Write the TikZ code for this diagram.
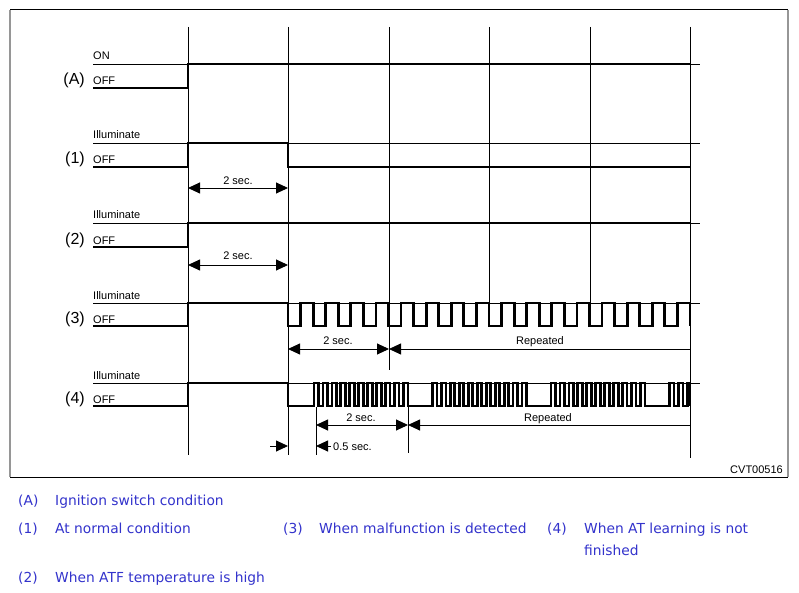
\documentclass[tikz,border=0pt]{standalone}
\usepackage{fontspec}
\setmainfont{Liberation Sans}
\newfontfamily\legfont{DejaVu Sans}
\usetikzlibrary{arrows.meta}
\definecolor{legblue}{RGB}{51,51,204}
\definecolor{framegray}{RGB}{150,150,150}
\begin{document}
\begin{tikzpicture}[x=1pt,y=-1pt,
  gridline/.style={line width=0.9pt},
  sig/.style={line width=2.8pt, line join=miter},
  refline/.style={line width=0.9pt},
  dimline/.style={line width=0.9pt},
  tri/.tip={Triangle[length=12pt,width=11pt]},
  lbl/.style={font=\fontsize{11}{13}\selectfont, inner sep=0pt},
  lvl/.style={font=\fontsize{11}{13}\selectfont, inner sep=0pt, anchor=base west},
  tag/.style={font=\fontsize{16}{18}\selectfont, inner sep=0pt, anchor=base east},
  leg/.style={font=\legfont\fontsize{13.8}{16}\selectfont, text=legblue, inner sep=0pt, anchor=base west}]
\useasboundingbox (0,0) rectangle (799,593);
\fill[white] (0,0) rectangle (799,593);
% frame
\draw[line width=1pt] (10,10) -- (788,10);
\draw[line width=1pt] (10,477) -- (788,477);
\draw[framegray, line width=1.2pt] (10,10) -- (10,477);
\draw[framegray, line width=1.2pt] (788,10) -- (788,477);
% vertical grid lines
\foreach \x/\yb in {188/455, 288/455, 389/370, 489/302, 590/302, 690/458}
  \draw[gridline] (\x,27) -- (\x,\yb);
\draw[gridline] (316,407) -- (316,455);
\draw[gridline] (408,382) -- (408,453);
% reference lines at high level
\foreach \y in {64,143,223,303,383}
  \draw[refline] (93,\y) -- (700,\y);
% level labels
\node[lvl] (onA) at (93,60) {ON};
\node[lvl] (offA) at (93,85) {OFF};
\foreach \y/\n in {143/1,223/2,303/3,383/4}
  \node[lvl] (ill\n) at (93,\y-4) {Illuminate};
\foreach \y/\n in {167/1,247/2,326/3,406/4}
  \node[lvl] (off\n) at (93,\y-3) {OFF};
\node[tag] (tA) at (85,85) {(A)};
\node[tag] (t1) at (85,164) {(1)};
\node[tag] (t2) at (85,244) {(2)};
\node[tag] (t3) at (85,323) {(3)};
\node[tag] (t4) at (85,403) {(4)};
% signals
\draw[sig] (93,88) -- (188,88) -- (188,64) -- (690,64);
\draw[sig] (93,167) -- (188,167) -- (188,143) -- (288,143) -- (288,167) -- (690,167);
\draw[sig] (93,247) -- (188,247) -- (188,223) -- (690,223);
\draw[sig] (93,326) -- (188,326) -- (188,303) -- (288,303) -- (288,326)
  \foreach \k in {1,...,16}{ -- ++(12.5625,0) -- ++(0,-23) -- ++(12.5625,0) -- ++(0,23) };
\def\hp{4.476}
\draw[sig] (93,406) -- (188,406) -- (188,383) -- (288,383) -- (288,406) -- (314,406)
  \foreach \b in {1,2,3}{ -- ++(0,-23)
     \foreach \j in {1,...,10}{ -- ++(\hp,0) -- ++(0,23) -- ++(\hp,0) -- ++(0,-23) }
     -- ++(\hp,0) -- ++(0,23) -- ++(24.5,0) }
  -- ++(0,-23) -- ++(\hp,0) -- ++(0,23) -- ++(\hp,0) -- ++(0,-23) -- ++(\hp,0) -- ++(0,23)
  -- ++(\hp,0) -- ++(0,-23) -- (690,383) -- (690,406);
% dimension coordinates
\coordinate (d1a) at (188,188); \coordinate (d1b) at (288,188);
\coordinate (d2a) at (188,265); \coordinate (d2b) at (288,265);
\coordinate (d3a) at (288,349); \coordinate (d3b) at (389,349); \coordinate (d3c) at (690,349);
\coordinate (d4a) at (316,425); \coordinate (d4b) at (408,425); \coordinate (d4c) at (690,425);
\coordinate (h0) at (270,446); \coordinate (h1) at (288,446);
\coordinate (h2) at (316,446); \coordinate (h3) at (331,446);
\draw[dimline, tri-tri] (d1a) -- (d1b);
\draw[dimline, tri-tri] (d2a) -- (d2b);
\draw[dimline, tri-tri] (d3a) -- (d3b);
\draw[dimline, tri-] (d3b) -- (d3c);
\draw[dimline, tri-tri] (d4a) -- (d4b);
\draw[dimline, tri-] (d4b) -- (d4c);
\draw[dimline, -tri] (h0) -- (h1);
\draw[dimline, tri-] (h2) -- (h3);
\node[lbl, anchor=base] (s1) at (238,185) {2 sec.};
\node[lbl, anchor=base] (s2) at (238,260) {2 sec.};
\node[lbl, anchor=base] (s3) at (338,344) {2 sec.};
\node[lbl, anchor=base] (r3) at (540,344) {Repeated};
\node[lbl, anchor=base] (s4) at (361,421) {2 sec.};
\node[lbl, anchor=base] (r4) at (548,421) {Repeated};
\node[lbl, anchor=base west] (s5) at (333,450) {0.5 sec.};
\node[lbl, anchor=base east] (code) at (783,473) {CVT00516};
% legend
\node[leg] (lA) at (18,505) {(A)};
\node[leg] (lAt) at (55,505) {Ignition switch condition};
\node[leg] (l1) at (18,533) {(1)};
\node[leg] (l1t) at (55,533) {At normal condition};
\node[leg] (l3) at (283,533) {(3)};
\node[leg] (l3t) at (319,533) {When malfunction is detected};
\node[leg] (l4) at (547,533) {(4)};
\node[leg] (l4t) at (584,533) {When AT learning is not};
\node[leg] (l4u) at (584,555) {finished};
\node[leg] (l2) at (18,582) {(2)};
\node[leg] (l2t) at (55,582) {When ATF temperature is high};
\end{tikzpicture}
\end{document}
